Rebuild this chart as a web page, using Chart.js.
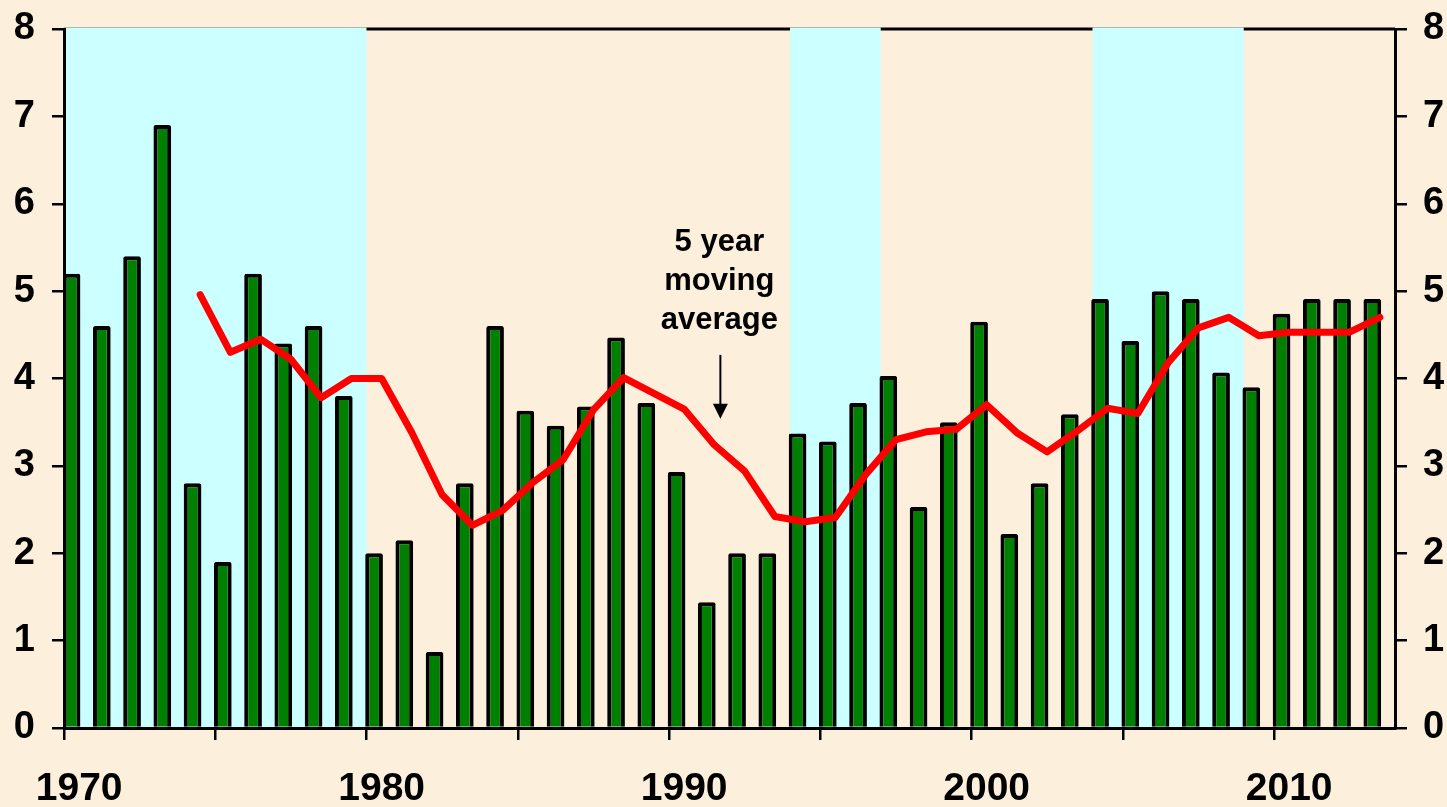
<!DOCTYPE html>
<html>
<head>
<meta charset="utf-8">
<title>Growth</title>
<script src="https://cdn.jsdelivr.net/npm/chart.js@4.4.1/dist/chart.umd.min.js"></script>
<style>
  html, body { margin: 0; padding: 0; background: #fcefdc; }
  #wrap { width: 1447px; height: 807px; position: relative; }
</style>
</head>
<body>
<div id="wrap"><canvas id="grafico"></canvas></div>
<script>
const years = [
  "1970", "1971", "1972", "1973", "1974", "1975", "1976", "1977", "1978", "1979",
  "1980", "1981", "1982", "1983", "1984", "1985", "1986", "1987", "1988", "1989",
  "1990", "1991", "1992", "1993", "1994", "1995", "1996", "1997", "1998", "1999",
  "2000", "2001", "2002", "2003", "2004", "2005", "2006", "2007", "2008", "2009",
  "2010", "2011", "2012", "2013",
];

const growth = [
  5.2, 4.6, 5.4, 6.9, 2.8, 1.9, 5.2, 4.4, 4.6, 3.8,
  2.0, 2.15, 0.87, 2.8, 4.6, 3.63, 3.46, 3.68, 4.47, 3.72,
  2.93, 1.44, 2.0, 2.0, 3.37, 3.28, 3.72, 4.03, 2.53, 3.5,
  4.65, 2.22, 2.8, 3.59, 4.91, 4.43, 5.0, 4.91, 4.07, 3.9,
  4.74, 4.91, 4.91, 4.91,
];

const movingAvg = [
  null, null, null, null, 4.96, 4.30, 4.45, 4.22, 3.78, 4.00,
  4.00, 3.38, 2.67, 2.32, 2.49, 2.81, 3.07, 3.64, 4.01, 3.83,
  3.65, 3.24, 2.94, 2.42, 2.36, 2.41, 2.90, 3.30, 3.39, 3.42,
  3.70, 3.38, 3.16, 3.40, 3.66, 3.60, 4.18, 4.58, 4.70, 4.49,
  4.53, 4.53, 4.53, 4.70,
];

// periodos sombreados (inicio incluido, fin excluido)
const shadeStart = ["1970", "1994", "2004"];
const shadeEnd = ["1980", "1997", "2009"];

const yTicks = [0, 1, 2, 3, 4, 5, 6, 7, 8];

const noteLines = ["5 year", "moving", "average"];

const BLACK = "#000000";
const FONT = "'Liberation Sans', Arial, sans-serif";

// fondo, linea superior y bandas celestes
const backgroundPlugin = {
  id: "fondo",
  beforeDraw(chart) {
    const { ctx, chartArea, scales } = chart;
    const x = scales.x;
    const cw = (x.right - x.left) / years.length;

    ctx.save();
    ctx.fillStyle = "#fcefdc";
    ctx.fillRect(0, 0, chart.width, chart.height);

    ctx.strokeStyle = BLACK;
    ctx.lineWidth = 3;
    ctx.beginPath();
    ctx.moveTo(chartArea.left, chartArea.top);
    ctx.lineTo(chartArea.right, chartArea.top);
    ctx.stroke();

    ctx.fillStyle = "#ccffff";
    shadeStart.forEach((s, i) => {
      const x0 = x.getPixelForValue(years.indexOf(s)) - cw / 2;
      const x1 = x.getPixelForValue(years.indexOf(shadeEnd[i])) - cw / 2;
      ctx.fillRect(x0, chartArea.top - 1.5, x1 - x0, chartArea.bottom - chartArea.top + 1.5);
    });
    ctx.restore();
  },
};

// texto "5 year moving average" con flecha
const notePlugin = {
  id: "nota",
  afterDatasetsDraw(chart) {
    const { ctx, scales } = chart;
    const x = scales.x;
    const y = scales.y;
    const cx = x.getPixelForValue(years.indexOf("1991")) + 5;

    ctx.save();
    ctx.fillStyle = BLACK;
    ctx.font = "bold 31px " + FONT;
    ctx.textAlign = "center";
    ctx.textBaseline = "middle";
    const linesY = [5.56, 5.11, 4.67];
    noteLines.forEach((t, i) => {
      ctx.fillText(t, cx, y.getPixelForValue(linesY[i]));
    });

    const top = y.getPixelForValue(4.27);
    const tip = y.getPixelForValue(3.54);
    ctx.strokeStyle = BLACK;
    ctx.lineWidth = 2;
    ctx.beginPath();
    ctx.moveTo(cx + 1, top);
    ctx.lineTo(cx + 1, tip - 12);
    ctx.stroke();
    ctx.beginPath();
    ctx.moveTo(cx + 1 - 7.5, tip - 15);
    ctx.lineTo(cx + 1 + 7.5, tip - 15);
    ctx.lineTo(cx + 1, tip);
    ctx.closePath();
    ctx.fill();
    ctx.restore();
  },
};

const yAxis = (position, width, padding) => ({
  position: position,
  min: 0,
  max: 8,
  afterBuildTicks(scale) {
    scale.ticks = yTicks.map((v) => ({ value: v }));
  },
  afterFit(scale) {
    scale.width = width;
    scale.paddingTop = 0;
    scale.paddingBottom = 0;
  },
  grid: {
    drawOnChartArea: false,
    drawTicks: true,
    tickLength: 12,
    color: BLACK,
    lineWidth: 2.5,
  },
  border: { display: true, color: BLACK, width: 3 },
  ticks: {
    color: BLACK,
    padding: padding,
    font: { family: FONT, size: 38, weight: "bold" },
  },
});

const ctxGraf = document.getElementById("grafico");

const myChart = new Chart(ctxGraf, {
  data: {
    labels: years,
    datasets: [
      {
        type: "line",
        label: "5 year moving average",
        data: movingAvg,
        borderColor: "#ff0000",
        borderWidth: 7,
        pointRadius: 0,
        tension: 0,
        borderCapStyle: "round",
        borderJoinStyle: "round",
        spanGaps: false,
        order: 0,
      },
      {
        type: "bar",
        label: "Growth",
        data: growth,
        backgroundColor: "#008000",
        borderColor: BLACK,
        borderWidth: 4,
        borderRadius: 2,
        borderSkipped: "bottom",
        categoryPercentage: 1.0,
        barPercentage: 1.17,
        order: 1,
      },
      {
        // serie vacia: deja la barra en la mitad izquierda de cada año
        type: "bar",
        label: "",
        data: years.map(() => null),
        categoryPercentage: 1.0,
        barPercentage: 1.17,
        order: 2,
      },
    ],
  },
  options: {
    responsive: true,
    maintainAspectRatio: false,
    animation: false,
    layout: { padding: { top: 29, left: 0, right: 0, bottom: 0 } },
    plugins: {
      legend: { display: false },
      tooltip: { enabled: false },
    },
    scales: {
      x: {
        type: "category",
        offset: true,
        afterFit(scale) {
          scale.height = 79;
        },
        grid: {
          offset: true,
          drawOnChartArea: false,
          drawTicks: true,
          tickLength: 12,
          color: (c) => (c.index % 5 === 0 && c.index < years.length ? BLACK : "rgba(0,0,0,0)"),
          lineWidth: 2.5,
        },
        border: { display: true, color: BLACK, width: 3 },
        ticks: {
          autoSkip: false,
          maxRotation: 0,
          minRotation: 0,
          padding: 26,
          color: BLACK,
          font: { family: FONT, size: 39, weight: "bold" },
          callback: function (value) {
            const year = this.getLabelForValue(value);
            return Number(year) % 10 === 0 ? year : "";
          },
        },
      },
      y: yAxis("left", 64, 17),
      y2: yAxis("right", 52, 16),
    },
  },
  plugins: [backgroundPlugin, notePlugin],
});
</script>
</body>
</html>
